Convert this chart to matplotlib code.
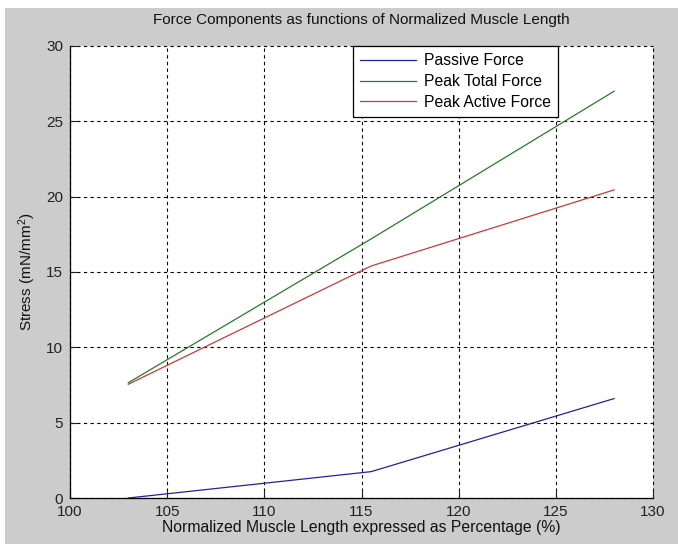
import matplotlib
matplotlib.use("Agg")
import matplotlib.pyplot as plt
from matplotlib.patches import Rectangle

plt.rcParams['font.family'] = ['Liberation Sans', 'DejaVu Sans']
plt.rcParams['mathtext.default'] = 'regular'

# Data
length_pct = [103.0, 115.5, 128.0]
passive_force = [0.0, 1.75, 6.6]
peak_total_force = [7.65, 17.2, 27.0]
peak_active_force = [7.55, 15.4, 20.45]

series_labels = ["Passive Force", "Peak Total Force", "Peak Active Force"]
x_ticks = [100, 105, 110, 115, 120, 125, 130]
y_ticks = [0, 5, 10, 15, 20, 25, 30]

W, H = 678, 544
fig = plt.figure(figsize=(W / 100, H / 100), dpi=100, facecolor='white')
# gray MATLAB-like figure background (with thin white strip at top/left)
fig.patches.append(Rectangle((5 / W, 0), 1 - 5 / W, 1 - 8 / H, transform=fig.transFigure,
                             facecolor='#cccccc', edgecolor='none', zorder=-10))

l, r, t, b = 70, 653, 46, 498
ax = fig.add_axes([l / W, 1 - b / H, (r - l) / W, (b - t) / H])
ax.set_facecolor('white')

ax.plot(length_pct, passive_force, color='#22229a', lw=0.9, label=series_labels[0])
ax.plot(length_pct, peak_total_force, color='#2a7a2a', lw=0.9, label=series_labels[1])
ax.plot(length_pct, peak_active_force, color='#c83a3a', lw=0.9, label=series_labels[2])

ax.set_xlim(100, 130)
ax.set_ylim(0, 30)
ax.set_xticks(x_ticks)
ax.set_yticks(y_ticks)
ax.tick_params(direction='in', length=5, width=0.8, labelsize=11, colors='#222222', pad=5)
ax.spines['top'].set_visible(False)
ax.spines['right'].set_visible(False)
for s in ('left', 'bottom'):
    ax.spines[s].set_linewidth(0.9)
ax.grid(True, color='black', linestyle=(0, (3, 3)), linewidth=0.8)
for gl in ax.get_xgridlines() + ax.get_ygridlines():
    gl.set_clip_on(False)

ax.set_title("Force Components as functions of Normalized Muscle Length", fontsize=11, pad=16,
             color='#111111')
ax.set_xlabel("Normalized Muscle Length expressed as Percentage (%)", fontsize=11.3, labelpad=1,
              color='#111111')
ax.set_ylabel("Stress (mN/mm$^2$)", fontsize=11, labelpad=6, color='#111111')

leg = ax.legend(loc='upper left', bbox_to_anchor=(0.485, 1.0), fontsize=11.3,
                frameon=True, fancybox=False, framealpha=1, edgecolor='black',
                borderpad=0.45, handlelength=3.6, handletextpad=0.5, labelspacing=0.38,
                borderaxespad=0)
leg.get_frame().set_linewidth(0.9)
leg.set_zorder(5)

fig.savefig("out.png", dpi=100, facecolor=fig.get_facecolor())
